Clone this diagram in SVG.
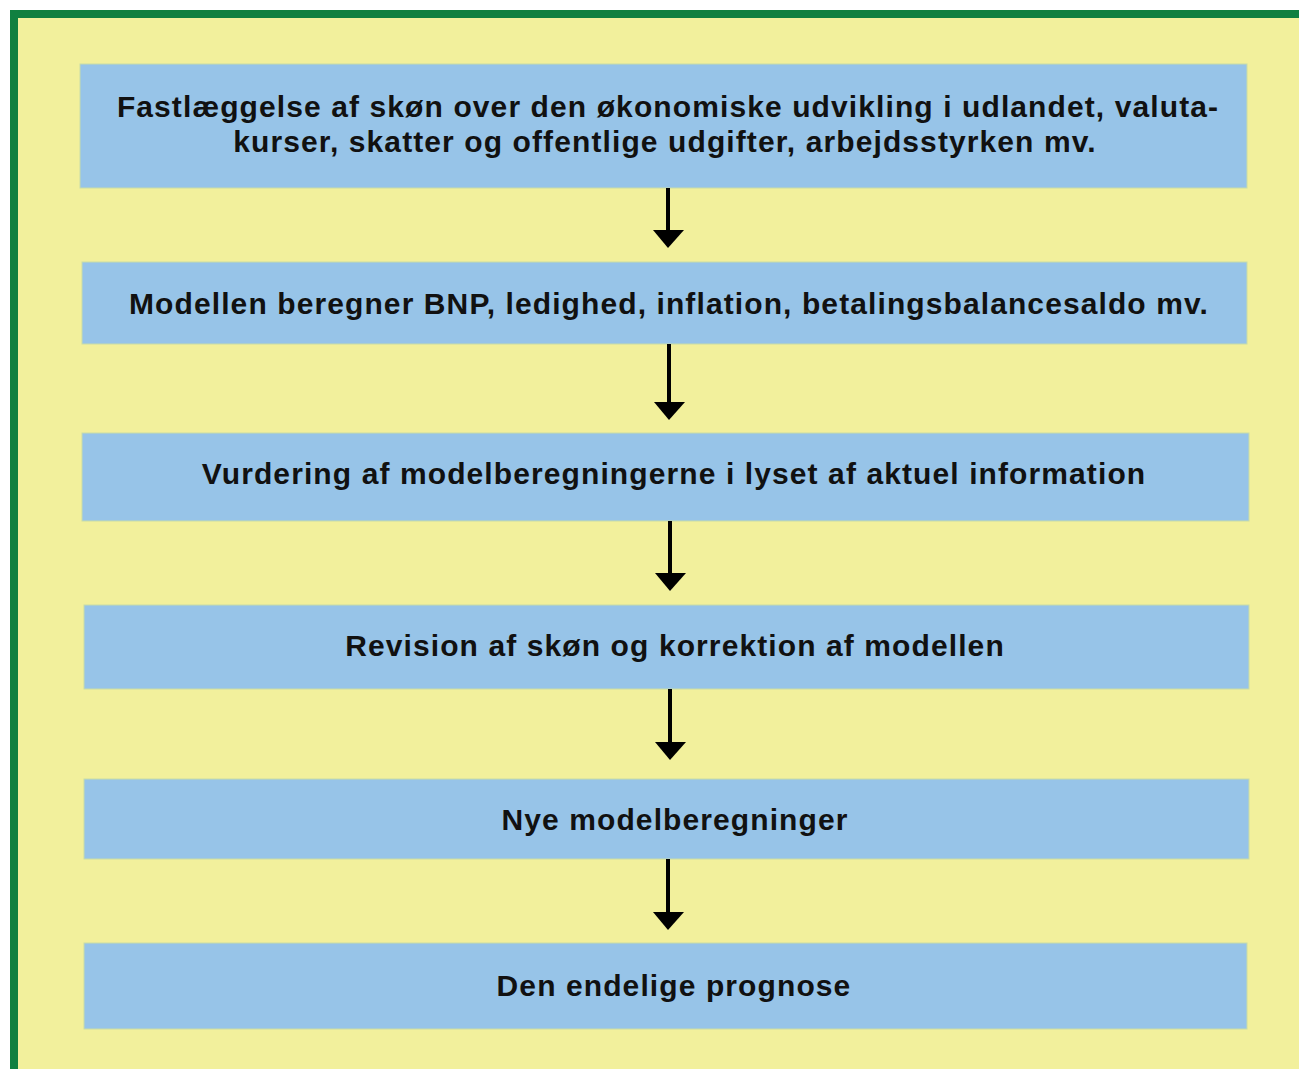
<svg xmlns="http://www.w3.org/2000/svg" width="1299" height="1069" viewBox="0 0 1299 1069">
<style>
.box{fill:#97c4e8;stroke:#c8dca8;stroke-width:1}
.t{font-family:"Liberation Sans",Arial,sans-serif;font-weight:bold;font-size:30px;letter-spacing:1.1px;fill:#111;text-anchor:middle}
.c{stroke:#000;stroke-width:4;fill:none}
.h{fill:#000}
</style>
<rect x="0" y="0" width="1299" height="1069" fill="#ffffff"/>
<rect x="14" y="14" width="1400" height="1200" fill="#f2f09c" stroke="#118040" stroke-width="8"/>
<g id="n1"><rect class="box" x="80" y="64" width="1167" height="124"/><text class="t" x="668" y="117">Fastlæggelse af skøn over den økonomiske udvikling i udlandet, valuta-</text><text class="t" x="665" y="152">kurser, skatter og offentlige udgifter, arbejdsstyrken mv.</text></g>
<g id="n2"><rect class="box" x="82" y="262" width="1165" height="82"/><text class="t" x="669" y="314">Modellen beregner BNP, ledighed, inflation, betalingsbalancesaldo mv.</text></g>
<g id="n3"><rect class="box" x="82" y="433" width="1167" height="88"/><text class="t" x="674" y="484">Vurdering af modelberegningerne i lyset af aktuel information</text></g>
<g id="n4"><rect class="box" x="84" y="605" width="1165" height="84"/><text class="t" x="675" y="656">Revision af skøn og korrektion af modellen</text></g>
<g id="n5"><rect class="box" x="84" y="779" width="1165" height="80"/><text class="t" x="675" y="830">Nye modelberegninger</text></g>
<g id="n6"><rect class="box" x="84" y="943" width="1163" height="86"/><text class="t" x="674" y="996">Den endelige prognose</text></g>
<g id="connectors">
<path class="c" d="M668 188V232"/><polygon class="h" points="653,230 684,230 668,248"/>
<path class="c" d="M669 344V404"/><polygon class="h" points="654,402 685,402 669,420"/>
<path class="c" d="M670 521V575"/><polygon class="h" points="655,573 686,573 670,591"/>
<path class="c" d="M670 689V744"/><polygon class="h" points="655,742 686,742 670,760"/>
<path class="c" d="M668 859V914"/><polygon class="h" points="653,912 684,912 668,930"/>
</g>
</svg>
